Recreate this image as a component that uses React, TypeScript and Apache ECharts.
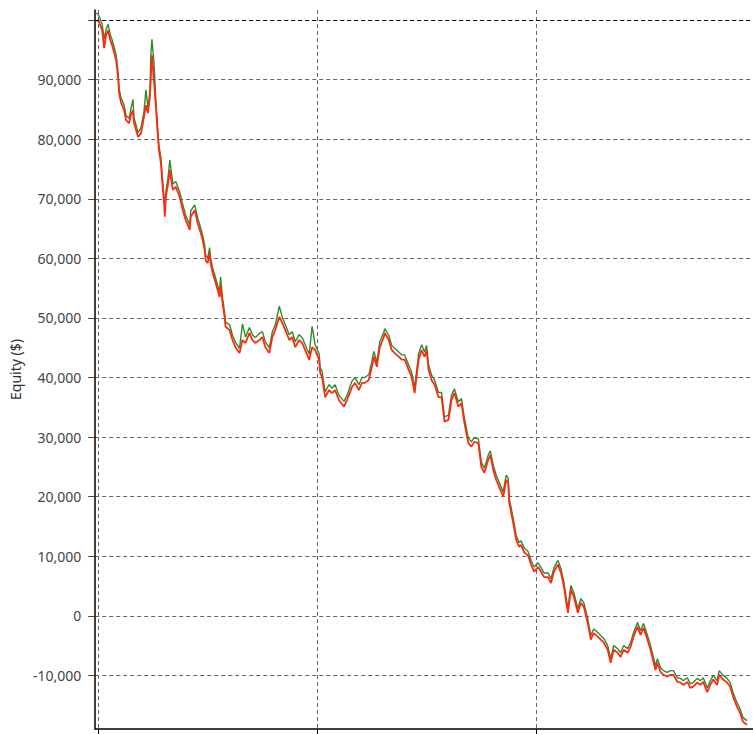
import React, { useEffect, useRef } from "react";
import * as echarts from "echarts";

// bar index along the equity curve
const bars = [
  0, 2, 4, 6, 8, 10, 12, 14, 16, 18, 20, 22, 23, 25, 28, 30, 33, 35, 37, 38,
  40, 42, 45, 48, 50, 52, 54, 55, 56, 58, 60, 62, 63, 65, 67, 68, 69, 70, 72, 74,
  77, 80, 84, 87, 90, 94, 95, 99, 102, 105, 107, 109, 110, 112, 114, 115, 117, 120, 124, 125,
  127, 129, 130, 134, 137, 140, 144, 147, 150, 154, 157, 160, 164, 167, 170, 174, 177, 180, 184, 187,
  190, 194, 197, 200, 204, 207, 210, 214, 217, 220, 224, 225, 227, 230, 234, 237, 240, 244, 249, 252,
  257, 260, 264, 267, 270, 274, 277, 279, 282, 285, 289, 290, 294, 297, 300, 304, 307, 310, 314, 317,
  320, 324, 327, 330, 332, 334, 337, 340, 344, 347, 350, 354, 357, 360, 364, 367, 370, 374, 377, 380,
  384, 387, 390, 394, 396, 399, 402, 405, 409, 412, 414, 415, 419, 422, 425, 427, 430, 434, 437, 440,
  444, 447, 450, 454, 457, 460, 464, 467, 470, 474, 477, 480, 484, 487, 490, 494, 497, 500, 504, 507,
  510, 514, 517, 520, 524, 527, 530, 534, 537, 540, 544, 547, 550, 554, 557, 560, 562, 564, 567, 570,
  574, 577, 580, 584, 587, 590, 594, 597, 600, 604, 607, 610, 614, 617, 620, 624, 626, 630, 634, 637,
  640, 644, 647, 650, 654,
];

// closing equity (red)
const closeEquity = [
  99800, 100000, 99200, 98300, 95300, 97500, 98300, 96700, 95800, 94600, 93300, 90400, 87800, 86100, 84900, 83200, 82700, 84100, 84900, 82700,
  81600, 80400, 81000, 83700, 85700, 84400, 87100, 90800, 94100, 89900, 85400, 80400, 78200, 76000, 71500, 69800, 67000, 70300, 72300, 74800,
  71500, 72000, 70300, 68100, 66400, 64800, 67000, 68100, 65900, 64300, 63100, 61400, 59700, 59200, 60900, 59200, 57600, 55900, 53500, 55500,
  52500, 50200, 48500, 48000, 46300, 45100, 44100, 46300, 45800, 47500, 46300, 45800, 46300, 46800, 45100, 44100, 46800, 48000, 50200, 49200,
  48000, 46300, 46800, 45100, 46300, 45800, 44600, 43000, 45100, 44600, 43000, 40800, 40100, 36700, 37900, 37400, 37900, 36200, 35100, 36200,
  38400, 39100, 37900, 39100, 39100, 39600, 41800, 43500, 41800, 45100, 46800, 47500, 46300, 44600, 44100, 43500, 43000, 43000, 41300, 40100,
  37400, 43000, 44600, 43500, 44600, 41300, 39600, 38800, 36700, 36700, 32600, 32900, 36200, 37400, 35100, 35700, 32400, 29000, 28400, 29200,
  29000, 25000, 24000, 26200, 27000, 24500, 22800, 21600, 20000, 22800, 22300, 19000, 15600, 12800, 11600, 11900, 10700, 10100, 8600, 7400,
  8200, 7400, 6500, 6500, 5500, 7400, 8600, 7200, 4900, 500, 4400, 3200, 500, 2200, 1500, -1200, -4000, -2900, -3500, -4000,
  -4500, -5700, -7900, -5700, -6200, -6900, -5700, -6200, -5200, -3500, -1800, -3200, -2000, -4000, -5700, -7700, -9100, -7900, -9400, -9900,
  -10200, -9900, -9900, -11100, -11200, -11600, -11100, -12100, -11900, -11200, -11600, -11100, -12800, -11600, -10700, -11600, -9900, -10700, -11200, -11900,
  -13600, -15300, -16300, -17800, -18300,
];

// high equity (green)
const highEquity = [
  101200, 101000, 100200, 99300, 96800, 98500, 99300, 97600, 96700, 95500, 94200, 91200, 88600, 86900, 85800, 84000, 83500, 85200, 86700, 83600,
  82400, 81100, 81900, 84700, 88300, 85300, 88000, 94500, 96800, 93000, 86500, 81300, 79000, 76900, 72600, 70700, 68200, 71200, 73300, 76500,
  72500, 72900, 71100, 69000, 67200, 65600, 68000, 69000, 66800, 65100, 63900, 62200, 60500, 60100, 61800, 60000, 58400, 56700, 54300, 56900,
  53300, 51000, 49300, 48900, 47100, 45900, 44900, 49000, 46800, 48400, 47200, 46700, 47400, 47700, 46000, 45000, 47700, 48900, 52000, 50100,
  48900, 47200, 47700, 46000, 47200, 46700, 45500, 43900, 48600, 45500, 44000, 41700, 41000, 37600, 38800, 38200, 38800, 37000, 36000, 37000,
  39400, 40000, 38800, 40000, 40000, 40500, 42700, 44400, 42600, 46000, 47600, 48200, 47100, 45400, 44900, 44300, 43800, 43800, 42100, 40900,
  38300, 44000, 45500, 44300, 45400, 42100, 40400, 39600, 37500, 37500, 33400, 33700, 37000, 38100, 35900, 36500, 33200, 29800, 29200, 29900,
  29700, 25800, 24800, 27000, 27700, 25300, 23600, 22400, 20800, 23600, 23100, 19800, 16400, 13500, 12300, 12600, 11400, 10800, 9300, 8200,
  8900, 8100, 7200, 7200, 6200, 8100, 9300, 7900, 5600, 1200, 5100, 3900, 1200, 2900, 2200, -500, -3300, -2200, -2800, -3300,
  -3800, -5000, -7200, -5000, -5500, -6200, -5000, -5500, -4500, -2800, -1100, -2500, -1300, -3300, -5000, -7000, -8400, -7200, -8700, -9200,
  -9500, -9200, -9200, -10400, -10500, -10900, -10400, -11400, -11200, -10500, -10900, -10400, -12100, -10900, -10000, -10900, -9200, -10000, -10500, -11200,
  -12900, -14600, -15600, -17100, -17600,
];

const yTickValues = [-10000, 0, 10000, 20000, 30000, 40000, 50000, 60000, 70000, 80000, 90000];
const xTickValues = [2, 222, 442];
const startingEquity = 100000;

export default function App() {
  const ref = useRef<HTMLDivElement>(null);

  useEffect(() => {
    if (!ref.current) return;
    const chart = echarts.init(ref.current, null, { renderer: "svg" });
    const highData = bars.map((b, i) => [b, highEquity[i]]);
    const closeData = bars.map((b, i) => [b, closeEquity[i]]);
    const font = "'Noto Sans', 'Open Sans', sans-serif";
    chart.setOption({
      animation: false,
      backgroundColor: "#ffffff",
      grid: { left: 92, right: 0, top: 10, bottom: 5, containLabel: false },
      xAxis: {
        type: "value",
        min: -1,
        max: 660,
        axisLine: { show: true, onZero: false, lineStyle: { color: "#000", width: 1.5 } },
        axisTick: {
          show: true,
          customValues: xTickValues,
          length: 5,
          lineStyle: { color: "#000" },
        },
        axisLabel: { show: false, customValues: xTickValues },
        splitLine: {
          show: true,
          lineStyle: { color: "#666", type: [4, 3], width: 1 },
        },
      },
      yAxis: {
        type: "value",
        min: -19000,
        max: 101700,
        name: "Equity ($)",
        nameLocation: "middle",
        nameGap: 68,
        nameTextStyle: { color: "#333", fontSize: 14, fontFamily: font },
        axisLine: { show: true, onZero: false, lineStyle: { color: "#000", width: 1.5 } },
        axisTick: {
          show: true,
          customValues: [...yTickValues, startingEquity],
          length: 7,
          lineStyle: { color: "#444" },
        },
        axisLabel: {
          customValues: yTickValues,
          margin: 14,
          color: "#444",
          fontSize: 14,
          fontFamily: font,
          formatter: (v: number) => v.toLocaleString("en-US"),
        },
        splitLine: {
          show: true,
          lineStyle: { color: "#666", type: [4, 3], width: 1 },
        },
      },
      series: [
        {
          name: "High",
          type: "line",
          data: highData,
          showSymbol: false,
          symbol: "none",
          lineStyle: { color: "#2e8b2e", width: 1.4 },
          z: 2,
          markLine: {
            silent: true,
            symbol: "none",
            label: { show: false },
            lineStyle: { color: "#000", type: [4, 3], width: 1 },
            data: [{ yAxis: startingEquity }],
          },
        },
        {
          name: "Equity",
          type: "line",
          data: closeData,
          showSymbol: false,
          symbol: "none",
          lineStyle: { color: "#ff2a10", width: 1.8 },
          z: 3,
        },
      ],
    });
    return () => chart.dispose();
  }, []);

  return (
    <div
      ref={ref}
      style={{ position: "fixed", left: 0, top: 0, width: 753, height: 734, background: "#fff" }}
    />
  );
}
